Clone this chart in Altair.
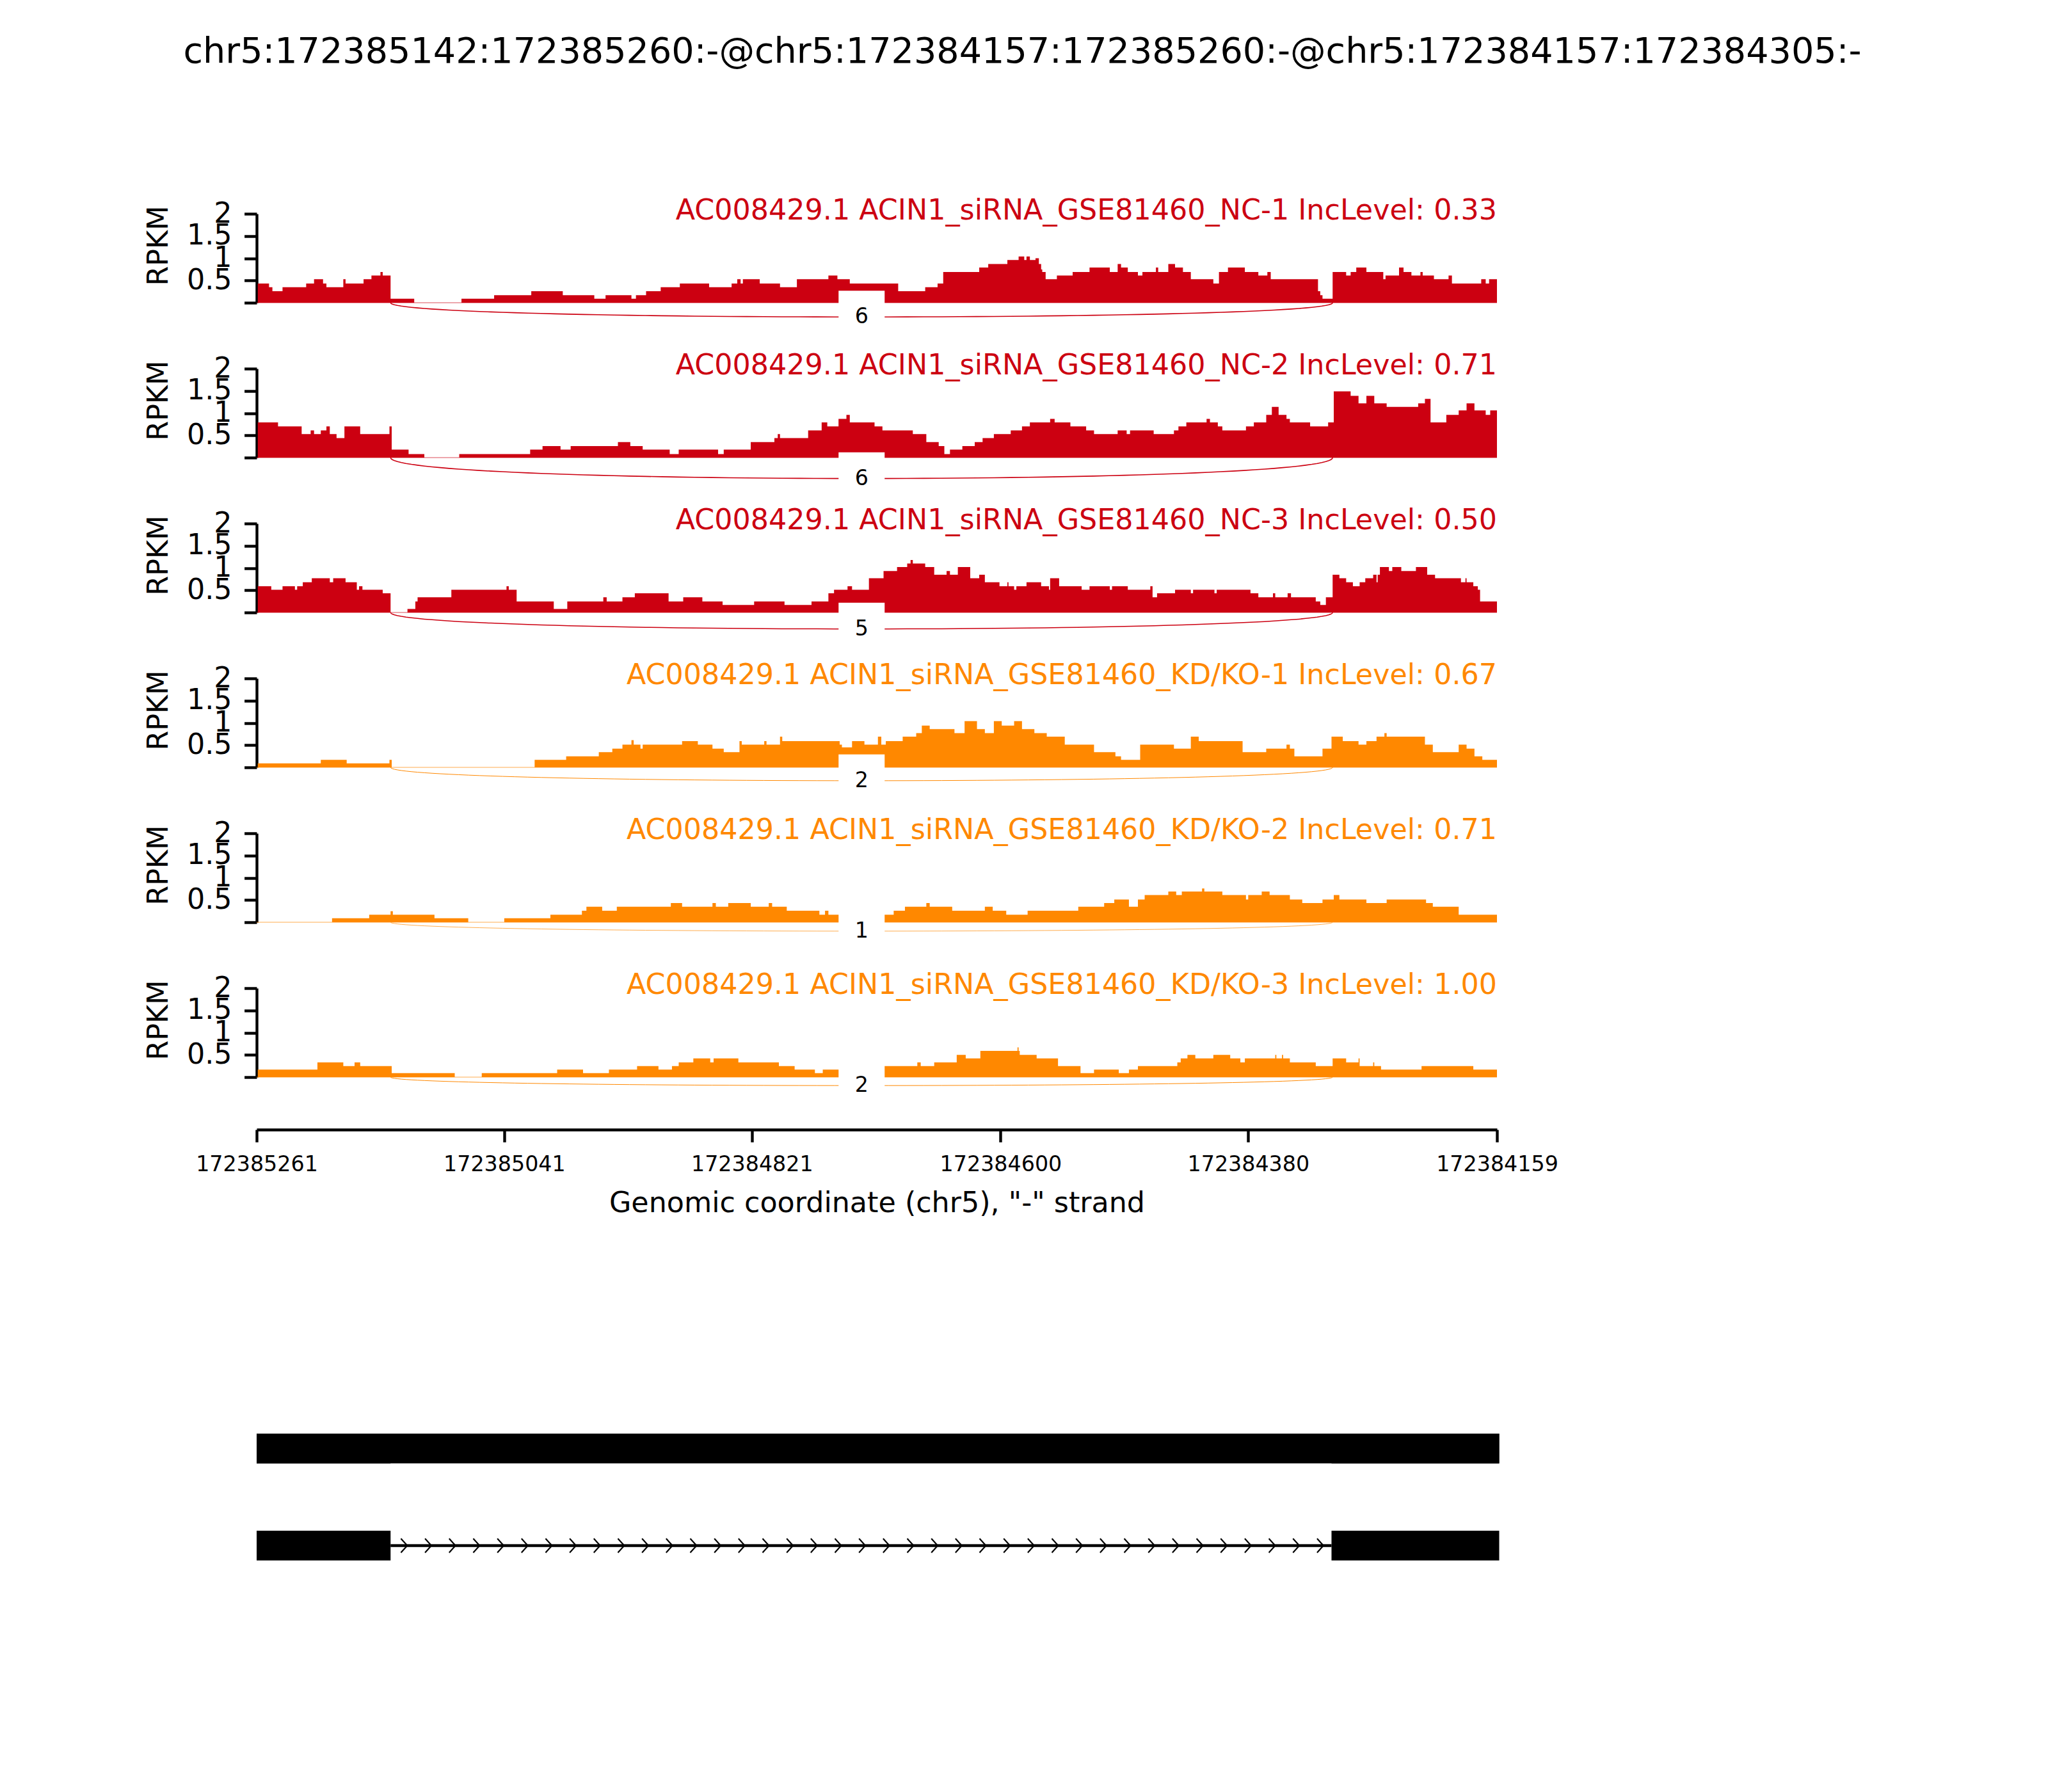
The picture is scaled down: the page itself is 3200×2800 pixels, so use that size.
import numpy as np
import pandas as pd
import altair as alt

# ---------------- data ----------------
REGION_START = 172385261   # left edge of the plotted region (minus strand, coordinates decrease to the right)
REGION_END = 172384159
TICK_LABELS = ["172385261", "172385041", "172384821", "172384600", "172384380", "172384159"]
TITLE = "chr5:172385142:172385260:-@chr5:172384157:172385260:-@chr5:172384157:172384305:-"
GENE = "AC008429.1"
SAMPLES = ["ACIN1_siRNA_GSE81460_NC-1", "ACIN1_siRNA_GSE81460_NC-2", "ACIN1_siRNA_GSE81460_NC-3",
           "ACIN1_siRNA_GSE81460_KD/KO-1", "ACIN1_siRNA_GSE81460_KD/KO-2", "ACIN1_siRNA_GSE81460_KD/KO-3"]
INC_LEVELS = [0.33, 0.71, 0.50, 0.67, 0.71, 1.00]
GROUPS = ["NC", "NC", "NC", "KD", "KD", "KD"]
JUNCTION = (172385142, 172384305)          # skipping junction (exon1 end -> exon3 start)
JUNCTION_COUNTS = [6, 6, 5, 2, 1, 2]
JUNCTION_DEPTH = [0.32, 0.47, 0.37, 0.30, 0.20, 0.19]   # RPKM below zero where the count label sits
EXON_A = (172385142, 172385260)
EXON_B = (172384157, 172385260)
EXON_C = (172384157, 172384305)

# coverage steps: (bp downstream of REGION_START, RPKM); each value holds until the next position
COV_NC1 = [(1, 0.43), (11, 0.35), (14, 0.26), (23, 0.35), (44, 0.43), (51, 0.53), (59, 0.43), (62, 0.35),
           (77, 0.53), (79, 0.43), (95, 0.53), (102, 0.61), (110, 0.69), (112, 0.61), (119, 0.09), (140, 0),
           (182, 0.09), (211, 0.17), (244, 0.26), (272, 0.17), (300, 0.09), (310, 0.17), (333, 0.09),
           (337, 0.17), (346, 0.26), (359, 0.35), (376, 0.43), (402, 0.35), (422, 0.43), (427, 0.53),
           (430, 0.43), (432, 0.53), (447, 0.43), (465, 0.35), (480, 0.53), (508, 0.61), (516, 0.53),
           (527, 0.43), (570, 0.26), (594, 0.35), (605, 0.43), (610, 0.69), (642, 0.79), (650, 0.87),
           (667, 0.96), (677, 1.04), (682, 0.96), (684, 1.04), (687, 0.96), (692, 1.00), (695, 0.87),
           (697, 0.75), (698, 0.69), (701, 0.53), (711, 0.61), (725, 0.69), (740, 0.79), (758, 0.69),
           (765, 0.87), (768, 0.79), (774, 0.69), (783, 0.61), (787, 0.69), (799, 0.79), (801, 0.69),
           (810, 0.87), (816, 0.79), (823, 0.69), (830, 0.53), (850, 0.43), (855, 0.69), (863, 0.79),
           (878, 0.69), (890, 0.61), (898, 0.69), (901, 0.53), (943, 0.26), (945, 0.17), (947, 0.09),
           (956, 0.69), (968, 0.61), (972, 0.69), (977, 0.79), (986, 0.69), (1001, 0.53), (1003, 0.61),
           (1015, 0.79), (1019, 0.69), (1026, 0.61), (1034, 0.69), (1036, 0.61), (1046, 0.53), (1059, 0.61),
           (1062, 0.43), (1088, 0.53), (1092, 0.43), (1095, 0.53), (1102, 0.53)]
COV_NC2 = [(1, 0.79), (19, 0.70), (40, 0.53), (48, 0.61), (51, 0.53), (57, 0.61), (62, 0.70), (65, 0.53),
           (71, 0.44), (78, 0.70), (92, 0.53), (118, 0.70), (120, 0.18), (135, 0.08), (149, 0), (180, 0.08),
           (243, 0.18), (254, 0.26), (270, 0.18), (279, 0.26), (321, 0.35), (332, 0.26), (343, 0.18),
           (367, 0.08), (375, 0.18), (410, 0.08), (415, 0.18), (439, 0.35), (460, 0.44), (463, 0.53),
           (465, 0.44), (490, 0.61), (502, 0.79), (507, 0.70), (517, 0.87), (524, 0.96), (527, 0.79),
           (549, 0.70), (556, 0.61), (583, 0.53), (595, 0.35), (606, 0.26), (611, 0.08), (616, 0.18),
           (627, 0.26), (638, 0.35), (645, 0.44), (655, 0.53), (670, 0.61), (680, 0.70), (687, 0.79),
           (705, 0.87), (709, 0.79), (723, 0.70), (737, 0.61), (744, 0.53), (765, 0.61), (773, 0.53),
           (776, 0.61), (797, 0.53), (815, 0.61), (819, 0.70), (826, 0.79), (844, 0.87), (847, 0.79),
           (854, 0.70), (858, 0.61), (879, 0.70), (886, 0.79), (897, 0.96), (902, 1.14), (908, 0.96),
           (915, 0.87), (918, 0.79), (936, 0.70), (952, 0.79), (957, 1.49), (972, 1.39), (979, 1.22),
           (986, 1.39), (993, 1.22), (1004, 1.14), (1032, 1.22), (1038, 1.32), (1043, 0.79), (1057, 0.96),
           (1068, 1.06), (1075, 1.22), (1082, 1.06), (1092, 0.96), (1096, 1.06), (1102, 1.06)]
COV_NC3 = [(1, 0.59), (13, 0.51), (23, 0.59), (34, 0.51), (36, 0.59), (41, 0.68), (49, 0.77), (65, 0.68),
           (68, 0.77), (79, 0.68), (89, 0.51), (91, 0.59), (94, 0.51), (112, 0.43), (119, 0), (134, 0.08),
           (141, 0.25), (143, 0.34), (173, 0.51), (222, 0.59), (224, 0.51), (231, 0.25), (264, 0.08),
           (276, 0.25), (308, 0.34), (311, 0.25), (325, 0.34), (336, 0.43), (366, 0.25), (379, 0.34),
           (396, 0.25), (414, 0.17), (442, 0.25), (469, 0.17), (493, 0.25), (508, 0.43), (513, 0.51),
           (525, 0.59), (529, 0.51), (544, 0.77), (557, 0.93), (569, 1.02), (578, 1.10), (581, 1.18),
           (583, 1.10), (594, 1.02), (602, 0.85), (613, 0.93), (616, 0.85), (623, 1.02), (634, 0.77),
           (642, 0.85), (647, 0.68), (660, 0.59), (667, 0.68), (668, 0.59), (673, 0.51), (675, 0.59),
           (684, 0.68), (697, 0.59), (704, 0.51), (705, 0.77), (713, 0.59), (733, 0.51), (740, 0.59),
           (758, 0.51), (760, 0.59), (774, 0.51), (794, 0.59), (796, 0.34), (800, 0.43), (816, 0.51),
           (830, 0.43), (832, 0.51), (851, 0.43), (853, 0.51), (883, 0.43), (890, 0.34), (903, 0.43),
           (905, 0.34), (916, 0.43), (919, 0.34), (941, 0.25), (945, 0.17), (950, 0.34), (956, 0.85),
           (962, 0.77), (968, 0.68), (974, 0.59), (980, 0.68), (985, 0.77), (992, 0.85), (995, 0.68),
           (996, 0.85), (998, 1.02), (1006, 0.93), (1009, 1.02), (1017, 0.93), (1030, 1.02), (1040, 0.85),
           (1047, 0.77), (1070, 0.68), (1074, 0.77), (1075, 0.68), (1081, 0.59), (1085, 0.51), (1087, 0.25),
           (1102, 0.25)]
COV_KD1 = [(1, 0.09), (57, 0.17), (80, 0.09), (118, 0.17), (120, 0), (247, 0.17), (275, 0.25), (304, 0.34),
           (316, 0.42), (325, 0.51), (333, 0.61), (335, 0.51), (341, 0.42), (343, 0.51), (378, 0.59),
           (392, 0.51), (405, 0.42), (415, 0.34), (429, 0.59), (431, 0.51), (451, 0.59), (453, 0.51),
           (465, 0.69), (467, 0.59), (518, 0.51), (520, 0.45), (529, 0.59), (540, 0.51), (552, 0.69),
           (555, 0.51), (559, 0.59), (574, 0.69), (586, 0.77), (591, 0.94), (598, 0.86), (620, 0.77),
           (629, 1.04), (640, 0.86), (647, 0.77), (655, 1.04), (662, 0.94), (673, 1.04), (680, 0.86),
           (691, 0.77), (702, 0.69), (718, 0.51), (744, 0.34), (763, 0.25), (768, 0.17), (785, 0.51),
           (815, 0.42), (830, 0.69), (837, 0.59), (876, 0.34), (897, 0.42), (915, 0.51), (918, 0.42),
           (922, 0.25), (947, 0.42), (955, 0.69), (965, 0.59), (979, 0.51), (986, 0.59), (995, 0.69),
           (1002, 0.77), (1004, 0.69), (1038, 0.51), (1045, 0.34), (1068, 0.51), (1075, 0.42), (1082, 0.25),
           (1089, 0.17), (1102, 0.17)]
COV_KD2 = [(1, 0), (67, 0.09), (100, 0.17), (119, 0.25), (121, 0.17), (158, 0.09), (188, 0), (220, 0.09),
           (261, 0.17), (289, 0.26), (293, 0.35), (307, 0.26), (320, 0.35), (368, 0.43), (378, 0.35),
           (405, 0.43), (408, 0.35), (419, 0.43), (439, 0.35), (455, 0.43), (458, 0.35), (471, 0.26),
           (500, 0.17), (505, 0.26), (508, 0.17), (566, 0.26), (576, 0.35), (595, 0.43), (598, 0.35),
           (618, 0.26), (647, 0.35), (654, 0.26), (666, 0.17), (685, 0.26), (730, 0.35), (753, 0.43),
           (762, 0.51), (775, 0.35), (783, 0.51), (789, 0.61), (810, 0.69), (817, 0.61), (822, 0.69),
           (840, 0.76), (842, 0.69), (858, 0.61), (879, 0.51), (881, 0.61), (893, 0.69), (900, 0.61),
           (918, 0.51), (929, 0.43), (947, 0.51), (957, 0.61), (962, 0.51), (986, 0.43), (1004, 0.51),
           (1039, 0.43), (1045, 0.35), (1068, 0.17), (1102, 0.17)]
COV_KD3 = [(1, 0.17), (54, 0.33), (77, 0.25), (87, 0.33), (92, 0.25), (120, 0.09), (176, 0), (200, 0.09),
           (267, 0.17), (290, 0.09), (313, 0.17), (338, 0.25), (357, 0.17), (369, 0.25), (375, 0.33),
           (388, 0.42), (403, 0.33), (406, 0.42), (428, 0.33), (464, 0.25), (478, 0.17), (496, 0.09),
           (503, 0.17), (557, 0.25), (587, 0.33), (590, 0.25), (602, 0.33), (622, 0.50), (630, 0.42),
           (643, 0.59), (676, 0.67), (677, 0.59), (678, 0.50), (693, 0.42), (712, 0.25), (732, 0.09),
           (744, 0.17), (766, 0.09), (775, 0.17), (783, 0.25), (818, 0.33), (821, 0.42), (827, 0.50),
           (834, 0.42), (850, 0.50), (865, 0.42), (874, 0.33), (878, 0.42), (905, 0.50), (906, 0.42),
           (911, 0.50), (912, 0.42), (918, 0.33), (941, 0.25), (956, 0.42), (968, 0.33), (979, 0.42),
           (980, 0.25), (992, 0.33), (993, 0.25), (999, 0.17), (1035, 0.25), (1081, 0.17), (1102, 0.17)]
COVERAGE = [COV_NC1, COV_NC2, COV_NC3, COV_KD1, COV_KD2, COV_KD3]

# ---------------- styles / layout ----------------
COLORS = {"NC": "#CC0011", "KD": "#FF8800"}
ARC_WIDTH = [1.6, 1.6, 1.5, 1.0, 0.7, 1.0]
FONT = "DejaVu Sans"
FS_TITLE, FS, FS_SMALL = 55.6, 44.4, 33.3
W, H, GAP, GENE_H = 1938, 139, 103, 674
BOX_PATH = "M -0.878 -1 L 0.878 -1 L 0.878 1 L -0.878 1 Z"
CHEVRON = "M -0.45 -1 L 0.45 0 L -0.45 1"

span = REGION_START - REGION_END
tick_offsets = [REGION_START - int(t) for t in TICK_LABELS]
j_left = REGION_START - JUNCTION[0]
j_right = REGION_START - JUNCTION[1]

xs = alt.Scale(domain=[0, span], nice=False, zero=False)
ys = alt.Scale(domain=[0, 2], nice=False, zero=False)

yaxis = alt.Axis(values=[0, 0.5, 1, 1.5, 2],
                 labelExpr="datum.value == 0 ? '' : format(datum.value, '~g')",
                 title="RPKM", titleFontSize=FS, titleFontWeight="normal", titleAngle=270,
                 titleX=-152.5, titleY=49.5, titleAlign="center", titleBaseline="middle",
                 labelFontSize=FS, labelPadding=19.6, tickSize=19.4, tickWidth=4.4,
                 domainWidth=4.4, domainColor="black", tickColor="black", labelColor="black",
                 titleColor="black", grid=False, labelOverlap=False, labelFlush=False)
xaxis = alt.Axis(values=tick_offsets, labelExpr=f"format({REGION_START} - datum.value, 'd')",
                 title='Genomic coordinate (chr5), "-" strand', titleFontSize=FS, titleFontWeight="normal",
                 titleY=128, titleBaseline="alphabetic", labelLimit=600,
                 labelFontSize=FS_SMALL, labelPadding=18.6, tickSize=19.4, tickWidth=4.4,
                 domainWidth=4.4, domainColor="black", tickColor="black", labelColor="black",
                 titleColor="black", grid=False, labelOverlap=False, labelFlush=False, offset=82)


def bezier_arc(a, b, depth, n=80):
    h = depth / 0.75
    t = np.linspace(0, 1, n)
    x = a + (b - a) * (3 * t ** 2 - 2 * t ** 3)
    y = -3 * h * t * (1 - t)
    return pd.DataFrame({"t": t, "offset": x, "rpkm": y})


panels = []
for i, steps in enumerate(COVERAGE):
    c = COLORS[GROUPS[i]]
    X = alt.X("offset:Q", scale=xs, axis=(xaxis if i == len(COVERAGE) - 1 else None))
    Y = alt.Y("rpkm:Q", scale=ys, axis=yaxis)
    cov = pd.DataFrame(steps, columns=["offset", "rpkm"])
    base = alt.Chart(pd.DataFrame({"offset": [0], "offset2": [span], "rpkm": [0]})).mark_rule(
        color=c, opacity=0.35, strokeWidth=2).encode(x=X, x2="offset2:Q", y=Y)
    area = alt.Chart(cov).mark_area(interpolate="step-after", color=c, opacity=1).encode(x=X, y=Y)
    arc = alt.Chart(bezier_arc(j_left, j_right, JUNCTION_DEPTH[i])).mark_line(
        color=c, strokeWidth=ARC_WIDTH[i]).encode(x=X, y=Y, order=alt.Order("t:Q"))
    lab_df = pd.DataFrame({"offset": [(j_left + j_right) / 2], "rpkm": [-JUNCTION_DEPTH[i]],
                           "count": [str(JUNCTION_COUNTS[i])]})
    box = alt.Chart(lab_df).mark_point(shape=BOX_PATH, filled=True, color="white", opacity=1,
                                       size=82 * 82, strokeWidth=0).encode(x=X, y=Y)
    lab = alt.Chart(lab_df).mark_text(font=FONT, fontSize=FS_SMALL, color="black",
                                      baseline="middle", align="center").encode(x=X, y=Y, text="count:N")
    name = alt.Chart(pd.DataFrame({"label": [f"{GENE} {SAMPLES[i]} IncLevel: {INC_LEVELS[i]:.2f}"]})).mark_text(
        font=FONT, fontSize=FS, color=c, align="right", baseline="alphabetic").encode(
        x=alt.value(W), y=alt.value(9), text="label:N")
    layers = [base, area, arc, box, lab, name]
    if i == 0:
        ttl = alt.Chart(pd.DataFrame({"label": [TITLE]})).mark_text(
            font=FONT, fontSize=FS_TITLE, color="black", align="center", baseline="alphabetic").encode(
            x=alt.value(1196.5), y=alt.value(-236.5), text="label:N")
        layers.append(ttl)
    panels.append(alt.layer(*layers).properties(width=W, height=H))

# ---------------- gene structure ----------------
def exon_span(ex):
    return REGION_START - ex[1] - 1, REGION_START - ex[0]

iso_exons = [(0, EXON_A), (0, EXON_B), (0, EXON_C), (1, EXON_A), (1, EXON_C)]
exons = pd.DataFrame([{"track": tr, "start": exon_span(ex)[0], "end": exon_span(ex)[1]} for tr, ex in iso_exons])
intron = pd.DataFrame({"track": [1], "start": [exon_span(EXON_A)[1]], "end": [exon_span(EXON_C)[0]]})
i0, i1 = exon_span(EXON_A)[1], exon_span(EXON_C)[0]
chev = pd.DataFrame({"track": 1, "start": np.linspace(i0 + 12, i1 - 10, 39)})

gx = alt.X("start:Q", scale=xs, axis=None)
gy = alt.Y("track:Q", scale=alt.Scale(domain=[-3.112, 1.264], reverse=True, nice=False, zero=False), axis=None)
g_rule = alt.Chart(intron).mark_rule(color="black", strokeWidth=4.4).encode(x=gx, x2="end:Q", y=gy)
g_chev = alt.Chart(chev).mark_point(shape=CHEVRON, filled=False, size=484, strokeWidth=2.2,
                                    color="black", opacity=1).encode(x=gx, y=gy)
g_bar = alt.Chart(exons).mark_bar(orient="horizontal", size=46.6, color="black").encode(x=gx, x2="end:Q", y=gy)
gene = alt.layer(g_rule, g_chev, g_bar).properties(width=W, height=GENE_H)

chart = alt.vconcat(*panels, gene, spacing=GAP, bounds="flush").properties(
    padding={"left": 217, "top": 45, "right": 10, "bottom": 10}
).configure_view(stroke="transparent").configure_axis(labelFont=FONT, titleFont=FONT)

chart.save("out.html", embed_options={"renderer": "svg", "actions": False})
